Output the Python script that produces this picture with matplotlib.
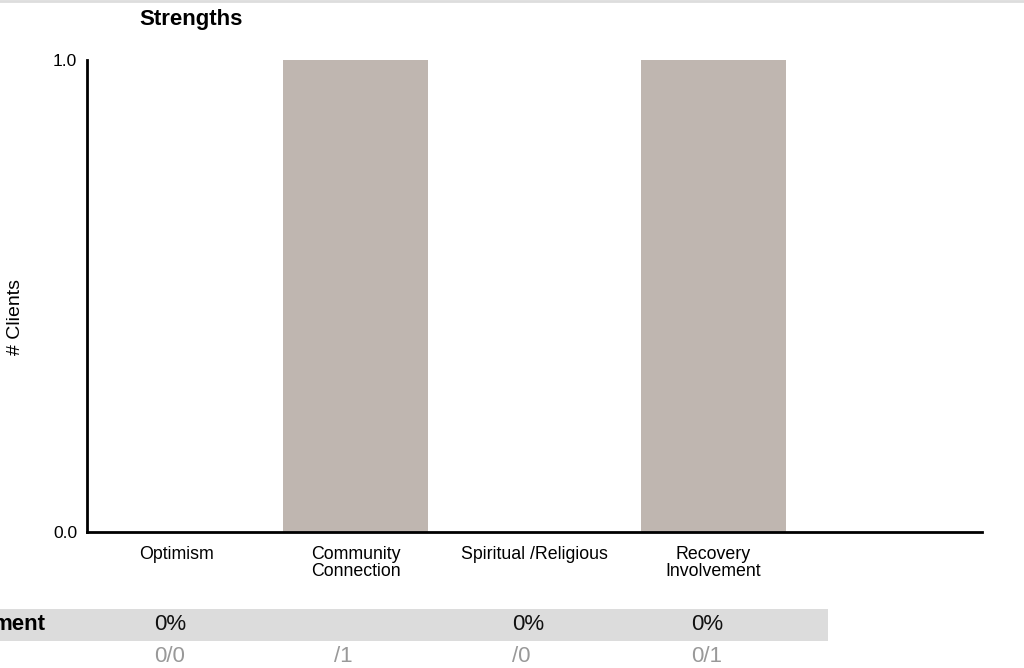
import matplotlib
matplotlib.use("Agg")
import matplotlib.pyplot as plt
from matplotlib.patches import Rectangle
from matplotlib.lines import Line2D

plt.rcParams['font.family'] = ['Liberation Sans', 'DejaVu Sans']

categories = ["Optimism", "Community\nConnection", "Spiritual /Religious", "Recovery\nInvolvement", ""]
values = [0, 1, 0, 1, 0]
y_ticks = [0.0, 1.0]
y_tick_labels = ["0.0", "1.0"]
title = "Strengths"
y_label = "# Clients"
row_label = "ment"
pct_row = ["0%", "", "0%", "0%"]
count_row = ["0/0", "/1", "/0", "0/1"]

W, H = 1024, 668
fig = plt.figure(figsize=(W / 100, H / 100), dpi=100)
ax = fig.add_axes([87 / W, 1 - 532 / H, (982 - 87) / W, (532 - 60) / H])

x = list(range(len(categories)))
ax.bar(x, values, width=0.81, color="#bfb6b0")
ax.set_xlim(-0.5, len(categories) - 0.5)
ax.set_ylim(0, 1)
ax.set_yticks(y_ticks)
ax.set_yticklabels(y_tick_labels, fontsize=12.5)
ax.set_xticks(x)
ax.set_xticklabels(categories, fontsize=12.8, linespacing=1.0)
ax.tick_params(axis="both", length=0)
ax.tick_params(axis="x", pad=10)
ax.tick_params(axis="y", pad=7)
for s in ["top", "right"]:
    ax.spines[s].set_visible(False)
for s in ["left", "bottom"]:
    ax.spines[s].set_linewidth(2)
    ax.spines[s].set_color("black")

fig.text(191 / W, 1 - 20 / H, title, fontsize=16, fontweight="bold", ha="center", va="center")
fig.text(15 / W, 1 - 317 / H, y_label, fontsize=14, rotation=90, ha="center", va="center")

# top border line
fig.add_artist(Line2D([0, 1], [1 - 1 / H, 1 - 1 / H], transform=fig.transFigure, color="#dddddd", lw=2))

# table background row
fig.add_artist(Rectangle((0, 1 - 641 / H), 828 / W, 32 / H, transform=fig.transFigure,
                         facecolor="#dcdcdc", edgecolor="none", zorder=0))
fig.text(45 / W, 1 - 625 / H, row_label, fontsize=16, fontweight="bold", ha="right", va="center")

# table text aligned to category positions
ax_left, ax_right = 87, 982
slot = (ax_right - ax_left) / len(categories)
for i, (p, c) in enumerate(zip(pct_row, count_row)):
    xpx = ax_left + slot * (i + 0.5) - 22
    fig.text(xpx / W, 1 - 625 / H, p, fontsize=16, color="#111111", ha="left", va="center")
    fig.text(xpx / W, 1 - 656 / H, c, fontsize=16, color="#999999", ha="left", va="center")

fig.savefig("out.png", dpi=100)
